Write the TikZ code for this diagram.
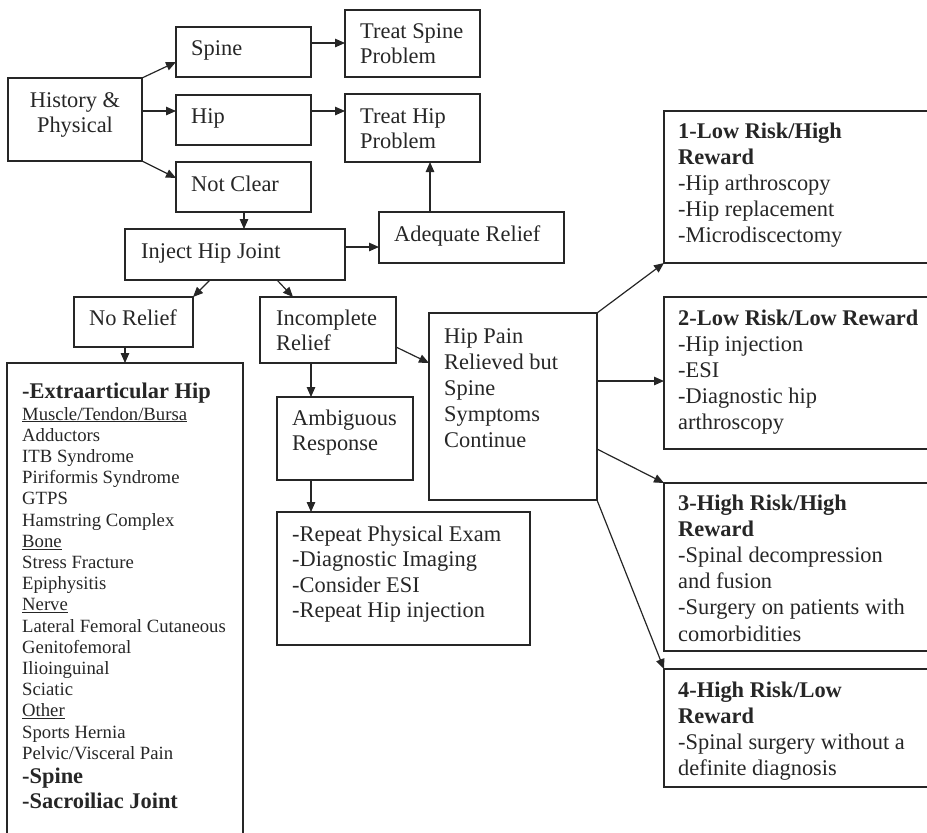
\documentclass[tikz,border=0pt]{standalone}
\usepackage{fontspec}
\setmainfont{Liberation Serif}
\usetikzlibrary{arrows.meta,calc}
\definecolor{ink}{HTML}{262626}
\newcommand\mylines[1]{\begin{tabular}[t]{@{}l@{}}#1\end{tabular}}
\newcommand\myul[1]{\setbox0\hbox{#1}\rlap{\rule[-2.3pt]{\wd0}{0.9pt}}\box0}
\newcommand\bighd[1]{{\fontsize{22.4}{25.5}\selectfont\bfseries #1}}
\begin{document}
\begin{tikzpicture}[x=1pt,y=-1pt,
  box/.style={draw=ink, line width=1.2pt, inner sep=0pt, outer sep=0pt, anchor=north west},
  txt/.style={inner sep=0pt, anchor=base west, text=ink, font=\fontsize{22.4}{25.5}\selectfont},
  txtR/.style={txt, font=\fontsize{22.4}{26.2}\selectfont},
  txtL/.style={txt, font=\fontsize{18.7}{21.2}\selectfont},
  arr/.style={draw=ink, line width=1.2pt, -{Triangle[length=10pt,width=8.5pt]}}]
\useasboundingbox (0,0) rectangle (927,833);
\clip (0,0) rectangle (927,833);
% boxes
\node[box, minimum width=134pt, minimum height=83pt] (hp) at (8,78) {};
\node[box, minimum width=135pt, minimum height=50pt] (spine) at (176,27) {};
\node[box, minimum width=135pt, minimum height=50pt] (hip) at (176,95) {};
\node[box, minimum width=135pt, minimum height=50pt] (nc) at (176,162) {};
\node[box, minimum width=135pt, minimum height=67pt] (tsp) at (345,10) {};
\node[box, minimum width=135pt, minimum height=68pt] (thp) at (345,94) {};
\node[box, minimum width=185pt, minimum height=51pt] (adq) at (379,212) {};
\node[box, minimum width=220pt, minimum height=51pt] (inj) at (125,229) {};
\node[box, minimum width=119pt, minimum height=50pt] (nor) at (74,297) {};
\node[box, minimum width=136pt, minimum height=66pt] (inc) at (260,297) {};
\node[box, minimum width=168pt, minimum height=187pt] (hpn) at (429,313) {};
\node[box, minimum width=136pt, minimum height=83pt] (amb) at (277,397) {};
\node[box, minimum width=253pt, minimum height=133pt] (rep) at (277,512) {};
\node[box, minimum width=236pt, minimum height=500pt] (ext) at (7,363) {};
\node[box, minimum width=280pt, minimum height=152pt] (b1) at (664,111) {};
\node[box, minimum width=280pt, minimum height=152pt] (b2) at (664,297) {};
\node[box, minimum width=280pt, minimum height=168pt] (b3) at (664,483) {};
\node[box, minimum width=280pt, minimum height=118pt] (b4) at (664,669) {};
% texts
\node[txt, anchor=base] (hpT) at ($(hp.north)+(0,29)$) {\begin{tabular}[t]{@{}c@{}}History \&\\Physical\end{tabular}};
\node[txt] (spineT) at ($(spine.north west)+(15,28)$) {Spine};
\node[txt] (hipT) at ($(hip.north west)+(15,28)$) {Hip};
\node[txt] (ncT) at ($(nc.north west)+(15,29)$) {Not Clear};
\node[txt] (tspT) at ($(tsp.north west)+(15,28)$) {\mylines{Treat Spine\\Problem}};
\node[txt] (thpT) at ($(thp.north west)+(15,29)$) {\mylines{Treat Hip\\Problem}};
\node[txt] (adqT) at ($(adq.north west)+(15,29)$) {Adequate Relief};
\node[txt] (injT) at ($(inj.north west)+(16,29)$) {Inject Hip Joint};
\node[txt] (norT) at ($(nor.north west)+(15,28)$) {No Relief};
\node[txt] (incT) at ($(inc.north west)+(16,28)$) {\mylines{Incomplete\\Relief}};
\node[txtR] (hpnT) at ($(hpn.north west)+(15,30)$) {\mylines{Hip Pain\\Relieved but\\Spine\\Symptoms\\Continue}};
\node[txt] (ambT) at ($(amb.north west)+(15,28)$) {\mylines{Ambiguous\\Response}};
\node[txt] (repT) at ($(rep.north west)+(15,29)$) {\mylines{-Repeat Physical Exam\\-Diagnostic Imaging\\-Consider ESI\\-Repeat Hip injection}};
\node[txtL] (extT) at ($(ext.north west)+(15,35)$) {\mylines{\bighd{-Extraarticular Hip}\\[0.8pt]
\myul{Muscle/Tendon/Bursa}\\
Adductors\\
ITB Syndrome\\
Piriformis Syndrome\\
GTPS\\
Hamstring Complex\\
\myul{Bone}\\
Stress Fracture\\
Epiphysitis\\
\myul{Nerve}\\
Lateral Femoral Cutaneous\\
Genitofemoral\\
Ilioinguinal\\
Sciatic\\
\myul{Other}\\
Sports Hernia\\
Pelvic/Visceral Pain\\[2pt]
\bighd{-Spine}\\[3.7pt]
\bighd{-Sacroiliac Joint}}};
\node[txtR] (b1T) at ($(b1.north west)+(14,27)$) {\mylines{\textbf{1-Low Risk/High}\\\textbf{Reward}\\-Hip arthroscopy\\-Hip replacement\\-Microdiscectomy}};
\node[txtR] (b2T) at ($(b2.north west)+(14,28)$) {\mylines{\textbf{2-Low Risk/Low Reward}\\-Hip injection\\-ESI\\-Diagnostic hip\\arthroscopy}};
\node[txtR] (b3T) at ($(b3.north west)+(14,27)$) {\mylines{\textbf{3-High Risk/High}\\\textbf{Reward}\\-Spinal decompression\\and fusion\\-Surgery on patients with\\comorbidities}};
\node[txtR] (b4T) at ($(b4.north west)+(14,28)$) {\mylines{\textbf{4-High Risk/Low}\\\textbf{Reward}\\-Spinal surgery without a\\definite diagnosis}};
% connectors
\draw[arr] (hp.north east) -- ($(spine.south west)+(0,-15)$);
\draw[arr] ($(hp.north east)+(0,33)$) -- ($(hip.north west)+(0,16)$);
\draw[arr] (hp.south east) -- ($(nc.north west)+(0,16)$);
\draw[arr] ($(spine.north east)+(0,16)$) -- ($(tsp.north west)+(0,33)$);
\draw[arr] ($(hip.north east)+(0,16)$) -- ($(thp.north west)+(0,17)$);
\coordinate (c1) at ($(nc.south west)+(68,0)$);
\draw[arr] (c1) -- (c1 |- inj.north);
\draw[arr] ($(inj.north east)+(0,18)$) -- ($(adq.north west)+(0,35)$);
\coordinate (c2) at ($(adq.north west)+(51,0)$);
\draw[arr] (c2) -- (c2 |- thp.south);
\draw[arr] ($(inj.south west)+(85,0)$) -- (nor.north east);
\draw[arr] ($(inj.south west)+(152,0)$) -- ($(inc.north west)+(33,0)$);
\coordinate (c3) at ($(nor.south west)+(51,0)$);
\draw[arr] (c3) -- (c3 |- ext.north);
\draw[arr] ($(inc.south east)+(0,-16)$) -- ($(hpn.north west)+(0,50)$);
\coordinate (c4) at ($(inc.south west)+(51,0)$);
\draw[arr] (c4) -- (c4 |- amb.north);
\coordinate (c5) at ($(amb.south west)+(34,0)$);
\draw[arr] (c5) -- (c5 |- rep.north);
\draw[arr] (hpn.north east) -- (b1.south west);
\draw[arr] ($(hpn.north east)+(0,68)$) -- ($(b2.north west)+(0,84)$);
\draw[arr] ($(hpn.north east)+(0,136)$) -- (b3.north west);
\draw[arr] (hpn.south east) -- (b4.north west);
\end{tikzpicture}
\end{document}
